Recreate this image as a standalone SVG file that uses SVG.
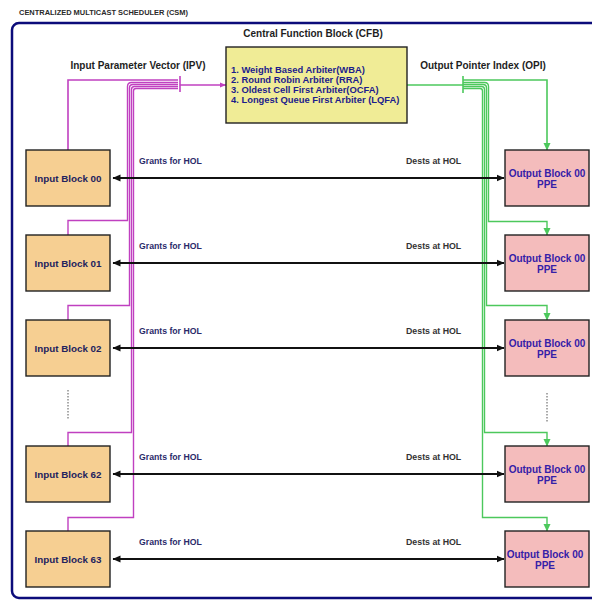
<svg xmlns="http://www.w3.org/2000/svg" width="592" height="600" viewBox="0 0 592 600">
  <style>
    text { font-family: "Liberation Sans", Arial, sans-serif; font-weight: bold; }
    .title { font-size: 7px; fill: #2a2a2a; }
    .head { font-size: 10px; fill: #1e1e1e; }
    .list { font-size: 9.4px; fill: #1c1c8c; }
    .ib rect { fill: #f6cf92; stroke: #222; stroke-width: 1.4; }
    .ib text { font-size: 9.8px; fill: #22225e; text-anchor: middle; }
    .ob rect { fill: #f4bcbc; stroke: #222; stroke-width: 1.4; }
    .ob text { font-size: 10px; fill: #3420a8; text-anchor: middle; }
    .grant { font-size: 8.7px; fill: #2a2a6a; }
    .dest { font-size: 8.8px; fill: #333; }
    .mag { fill: none; stroke: #c040c0; stroke-width: 1.6; }
    .grn { fill: none; stroke: #4cc85c; stroke-width: 1.6; }
    .bus { stroke-width: 1.4; }
    .hol { stroke: #111; stroke-width: 2; marker-start: url(#blk); marker-end: url(#blk); }
    .dots { stroke: #555; stroke-width: 1; stroke-dasharray: 1.5 1.5; }
  </style>
  <defs>
    <marker id="blk" markerUnits="userSpaceOnUse" markerWidth="9" markerHeight="8" refX="7.5" refY="4" orient="auto-start-reverse">
      <path d="M0,0.5 L8,4 L0,7.5 z" fill="#111"/>
    </marker>
    <marker id="garr" markerUnits="userSpaceOnUse" markerWidth="8" markerHeight="8" refX="7" refY="4" orient="auto">
      <path d="M0,0.5 L7.5,4 L0,7.5 z" fill="#4cc85c"/>
    </marker>
    <marker id="marr" markerUnits="userSpaceOnUse" markerWidth="7" markerHeight="6" refX="6" refY="3" orient="auto">
      <path d="M0,0.5 L6,3 L0,5.5 z" fill="#c040c0"/>
    </marker>
  </defs>

  <rect x="0" y="0" width="592" height="600" fill="#ffffff"/>
  <text class="title" x="19" y="15" textLength="169" lengthAdjust="spacingAndGlyphs">CENTRALIZED MULTICAST SCHEDULER (CSM)</text>

  <!-- scheduler frame -->
  <rect x="12" y="23" width="600" height="575" rx="7" fill="#ffffff" stroke="#0c0c7a" stroke-width="2.5"/>

  <text class="head" x="313" y="37" text-anchor="middle">Central Function Block (CFB)</text>
  <text class="head" x="138" y="69" text-anchor="middle">Input Parameter Vector (IPV)</text>
  <text class="head" x="483" y="69" text-anchor="middle">Output Pointer Index (OPI)</text>

  <!-- bus connectors -->
  <g id="connectors">
    <!-- input parameter vector bus -->
    <path class="mag" d="M68,150 V80 H178"/>
    <path class="mag bus" d="M68,235 V220.5 H127.5 V86.5 Q127.5,82.5 131.5,82.5 H178"/>
    <path class="mag bus" d="M68,320 V305.5 H129.5 V88 Q129.5,84.5 133,84.5 H178"/>
    <path class="mag bus" d="M68,446 V432.5 H131.5 V89.5 Q131.5,86.5 134.5,86.5 H178"/>
    <path class="mag bus" d="M68,531 V517.5 H133.5 V91 Q133.5,88.5 136,88.5 H178"/>
    <line class="mag" x1="180" y1="76" x2="180" y2="92"/>
    <line class="mag" x1="180" y1="85" x2="226" y2="85" marker-end="url(#marr)"/>

    <!-- output pointer index bus -->
    <line class="grn" x1="407" y1="85" x2="463" y2="85"/>
    <line class="grn" x1="463" y1="76" x2="463" y2="93"/>
    <path class="grn" d="M463,80 H547 V150" marker-end="url(#garr)"/>
    <path class="grn bus" d="M463,82.5 H484.5 Q488.5,82.5 488.5,86.5 V221.5 H547 V235" marker-end="url(#garr)"/>
    <path class="grn bus" d="M463,84.5 H483 Q486.5,84.5 486.5,88 V305.5 H547 V320" marker-end="url(#garr)"/>
    <path class="grn bus" d="M463,86.5 H481.5 Q484.5,86.5 484.5,89.5 V432.5 H547 V446" marker-end="url(#garr)"/>
    <path class="grn bus" d="M463,88.5 H480 Q482.5,88.5 482.5,91 V517.5 H547 V531" marker-end="url(#garr)"/>

    <!-- head-of-line grants / destinations -->
    <line class="hol" x1="113" y1="178" x2="504" y2="178"/>
    <line class="hol" x1="113" y1="263" x2="504" y2="263"/>
    <line class="hol" x1="113" y1="348" x2="504" y2="348"/>
    <line class="hol" x1="113" y1="474" x2="504" y2="474"/>
    <line class="hol" x1="113" y1="559" x2="504" y2="559"/>

    <line class="dots" x1="68" y1="390" x2="68" y2="419"/>
    <line class="dots" x1="547" y1="393" x2="547" y2="422"/>
  </g>

  <!-- arbiter block -->
  <g id="cfb">
    <rect x="226" y="47" width="181" height="76" fill="#f0ec96" stroke="#222" stroke-width="1.4"/>
    <text class="list" x="231" y="72.5">1. Weight Based Arbiter(WBA)</text>
    <text class="list" x="231" y="82.5">2. Round Robin Arbiter  (RRA)</text>
    <text class="list" x="231" y="92.5">3. Oldest Cell First Arbiter(OCFA)</text>
    <text class="list" x="231" y="102.5">4. Longest Queue First Arbiter (LQFA)</text>
  </g>

  <!-- input blocks -->
  <g id="ib00" class="ib"><rect x="26" y="150" width="84" height="56"/><text x="68" y="181.5">Input Block 00</text></g>
  <g id="ib01" class="ib"><rect x="26" y="235" width="84" height="56"/><text x="68" y="266.5">Input Block 01</text></g>
  <g id="ib02" class="ib"><rect x="26" y="320" width="84" height="56"/><text x="68" y="351.5">Input Block 02</text></g>
  <g id="ib62" class="ib"><rect x="26" y="446" width="84" height="56"/><text x="68" y="477.5">Input Block 62</text></g>
  <g id="ib63" class="ib"><rect x="26" y="531" width="84" height="56"/><text x="68" y="562.5">Input Block 63</text></g>

  <!-- output blocks -->
  <g id="ob00" class="ob"><rect x="505" y="150" width="84" height="56"/><text x="547" y="176.5">Output Block 00</text><text x="547" y="188">PPE</text></g>
  <g id="ob01" class="ob"><rect x="505" y="235" width="84" height="56"/><text x="547" y="261.5">Output Block 00</text><text x="547" y="273">PPE</text></g>
  <g id="ob02" class="ob"><rect x="505" y="320" width="84" height="56"/><text x="547" y="346.5">Output Block 00</text><text x="547" y="358">PPE</text></g>
  <g id="ob62" class="ob"><rect x="505" y="446" width="84" height="56"/><text x="547" y="472.5">Output Block 00</text><text x="547" y="484">PPE</text></g>
  <g id="ob63" class="ob"><rect x="505" y="531" width="84" height="56"/><text x="545" y="557.5">Output Block 00</text><text x="545" y="569">PPE</text></g>

  <!-- link labels -->
  <g id="labels">
    <text class="grant" x="139" y="164">Grants for HOL</text>
    <text class="grant" x="139" y="249">Grants for HOL</text>
    <text class="grant" x="139" y="334">Grants for HOL</text>
    <text class="grant" x="139" y="460">Grants for HOL</text>
    <text class="grant" x="139" y="545">Grants for HOL</text>
    <text class="dest" x="406" y="164">Dests at HOL</text>
    <text class="dest" x="406" y="249">Dests at HOL</text>
    <text class="dest" x="406" y="334">Dests at HOL</text>
    <text class="dest" x="406" y="460">Dests at HOL</text>
    <text class="dest" x="406" y="545">Dests at HOL</text>
  </g>
</svg>
